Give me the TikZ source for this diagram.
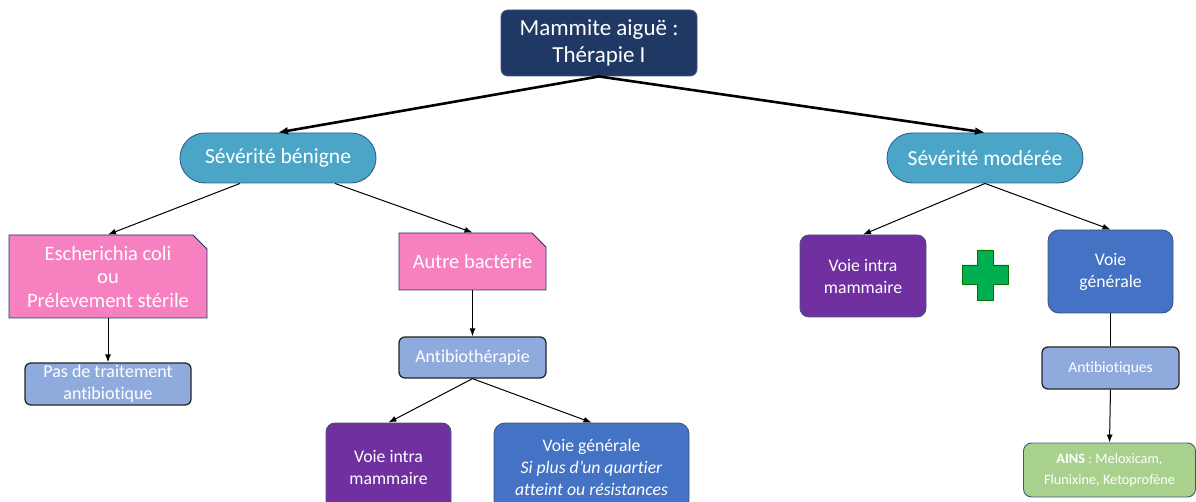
\documentclass[tikz,border=0pt]{standalone}
\usepackage{fontspec}
\setmainfont{Carlito}[Ligatures=CommonOff]
\usetikzlibrary{shapes.misc,arrows.meta}

\definecolor{navy}{HTML}{203864}
\definecolor{teal}{HTML}{4BA5C6}
\definecolor{tealedge}{HTML}{2F5F8A}
\definecolor{pinkbox}{HTML}{F680C0}
\definecolor{lightblue}{HTML}{8FAADC}
\definecolor{purplebox}{HTML}{7030A0}
\definecolor{bluebox}{HTML}{4472C4}
\definecolor{greenplus}{HTML}{00B050}
\definecolor{lightgreen}{HTML}{A9D18E}
\definecolor{edgegray}{HTML}{41557A}

\tikzset{
  base/.style={inner sep=0pt, align=center, text=white, line width=0.9pt},
  titlebox/.style={base, fill=navy, draw=edgegray, rounded corners=7pt,
    minimum width=196pt, minimum height=66pt, font=\fontsize{23}{27}\selectfont},
  severity/.style={base, fill=teal, draw=tealedge, rounded corners=25pt,
    minimum width=196pt, minimum height=50pt, font=\fontsize{21.5}{24}\selectfont},
  germbox/.style={base, chamfered rectangle, chamfered rectangle corners=north east,
    chamfered rectangle xsep=0pt, chamfered rectangle ysep=0pt,
    chamfered rectangle angle=45, chamfered rectangle sep=7pt,
    fill=pinkbox, draw=navy, font=\fontsize{20.5}{23.5}\selectfont},
  treatbox/.style={base, fill=lightblue, draw=black!85, line width=1.3pt,
    rounded corners=6pt, font=\fontsize{18}{22}\selectfont},
  purplestyle/.style={base, fill=purplebox, draw=edgegray, rounded corners=9pt,
    font=\fontsize{17.7}{22}\selectfont},
  bluestyle/.style={base, fill=bluebox, draw=edgegray, rounded corners=11pt,
    font=\fontsize{17.7}{22}\selectfont},
  ainsbox/.style={base, fill=lightgreen, draw=edgegray, rounded corners=8pt,
    font=\fontsize{14.3}{21}\selectfont},
  bigarrow/.style={line width=2.6pt, -{Latex[length=10pt,width=8pt]}},
  arrow/.style={line width=1pt, -{Latex[length=8pt,width=6pt]}},
  plain/.style={line width=1pt},
}

\begin{document}
\begin{tikzpicture}[x=1pt,y=-1pt]
\useasboundingbox (0,0) rectangle (1196,502);
\clip (0,0) rectangle (1196,502);

% root and severity levels
\node[titlebox] (root) at (599,43) {Mammite aiguë :\\Thérapie I};
\node[severity] (benign) at (278,158) {Sévérité bénigne};
\node[severity] (moderate) at (985,158) {Sévérité modérée};

% benign branch
\node[germbox, minimum width=198pt, minimum height=83pt] (ecoli) at (108,276.5)
  {Escherichia coli\\ou\\Prélevement stérile};
\node[germbox, minimum width=147pt, minimum height=57pt] (other) at (472.5,261.5)
  {Autre bactérie};
\node[treatbox, minimum width=166pt, minimum height=42pt] (noab) at (108,384)
  {Pas de traitement\\antibiotique};
\node[treatbox, minimum width=147pt, minimum height=41pt] (abt) at (472.5,357.5)
  {Antibiothérapie};
\node[purplestyle, minimum width=125pt, minimum height=88pt] (intraA) at (388.5,467)
  {Voie intra\\mammaire};
\node[bluestyle, minimum width=195pt, minimum height=88pt] (genA) at (591.5,467)
  {Voie générale\\\textit{Si plus d’un quartier}\\\textit{atteint ou résistances}};

% moderate branch
\node[purplestyle, minimum width=126pt, minimum height=82pt] (intraB) at (863,276)
  {Voie intra\\mammaire};
\node[bluestyle, minimum width=125pt, minimum height=83pt] (genB) at (1110.5,271.5)
  {Voie\\générale};
\node[treatbox, minimum width=137pt, minimum height=42pt, font=\fontsize{15.5}{18}\selectfont]
  (abq) at (1110.5,368) {Antibiotiques};
\node[ainsbox, minimum width=172pt, minimum height=54pt] (ains) at (1109.5,470)
  {\textbf{AINS} : Meloxicam,\\Flunixine, Ketoprofène};

% green cross between the two routes
\filldraw[fill=greenplus, draw=green!45!black, line width=0.8pt]
  (977,250) -- (993,250) -- (993,265) -- (1008,265) -- (1008,284) -- (993,284)
  -- (993,300) -- (977,300) -- (977,284) -- (962,284) -- (962,265) -- (977,265) -- cycle;

% connectors
\draw[bigarrow] (root.south) -- (benign.north);
\draw[bigarrow] (root.south) -- (moderate.north);
\draw[arrow] ([xshift=-38pt]benign.south) -- (ecoli.north);
\draw[arrow] ([xshift=57pt]benign.south) -- (other.north);
\draw[arrow] (ecoli.south) -- (noab.north);
\draw[arrow] (other.south) -- (abt.north);
\draw[arrow] (abt.south) -- (intraA.north);
\draw[arrow] (abt.south) -- (genA.north);
\draw[arrow] (moderate.south) -- (intraB.north);
\draw[arrow] (moderate.south) -- (genB.north);
\draw[plain] (genB.south) -- (abq.north);
\draw[arrow] (abq.south) -- (ains.north);
\end{tikzpicture}
\end{document}
